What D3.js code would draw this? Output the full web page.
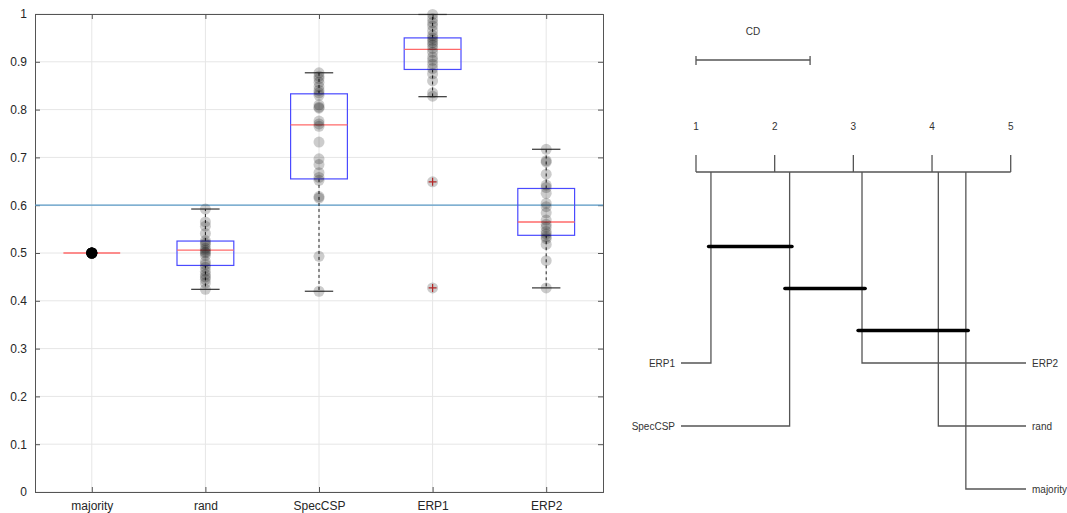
<!DOCTYPE html>
<html>
<head>
<meta charset="utf-8">
<script src="https://cdn.jsdelivr.net/npm/d3@7"></script>
<style>
  body { margin:0; background:#fff; }
  svg { font-family: "Liberation Sans", Arial, sans-serif; }
</style>
</head>
<body>
<script>
// categories and per-group accuracies
var groups = ["majority", "rand", "SpecCSP", "ERP1", "ERP2"];

var majorityVals = [0.5,0.5,0.5,0.5,0.5,0.5,0.5,0.5,0.5,0.5,0.5,0.5,0.5,0.5,0.5,0.5,0.5,0.5,0.5,0.5,0.5,0.5];
var randVals = [0.592,0.565,0.556,0.541,0.526,0.521,0.518,0.51,0.506,0.502,0.5,0.495,0.482,0.476,0.47,0.462,0.455,0.45,0.445,0.437,0.424];
var specVals = [0.877,0.87,0.865,0.857,0.848,0.84,0.835,0.83,0.81,0.805,0.803,0.776,0.77,0.765,0.732,0.697,0.685,0.668,0.658,0.652,0.618,0.615,0.493,0.42];
var erp1Vals = [0.999,0.99,0.982,0.975,0.965,0.955,0.95,0.945,0.94,0.935,0.928,0.92,0.91,0.903,0.895,0.886,0.875,0.86,0.835,0.828,0.649,0.427];
var erp2Vals = [0.717,0.693,0.69,0.665,0.642,0.637,0.625,0.604,0.597,0.584,0.569,0.56,0.554,0.545,0.54,0.534,0.53,0.518,0.484,0.427];

// box stats: [lower whisker, q1, median, q3, upper whisker]
var boxLo  = [0.5, 0.424, 0.42, 0.827, 0.427];
var boxQ1  = [0.5, 0.474, 0.655, 0.884, 0.537];
var boxMed = [0.5, 0.506, 0.768, 0.926, 0.565];
var boxQ3  = [0.5, 0.525, 0.833, 0.950, 0.635];
var boxHi  = [0.5, 0.592, 0.877, 0.999, 0.717];
var outliers = [[], [], [], [0.649, 0.427], []];

var refLine = 0.6;
var yTicks = [0,0.1,0.2,0.3,0.4,0.5,0.6,0.7,0.8,0.9,1];

// critical difference diagram
var cdNames = ["ERP1", "SpecCSP", "ERP2", "rand", "majority"];
var cdRanks = [1.19, 2.19, 3.11, 4.08, 4.43];
var cdValue = 1.45;
var cdCliques = [[1.16, 2.22], [2.13, 3.15], [3.06, 4.46]];
var rankTicks = [1,2,3,4,5];

var allVals = [majorityVals, randVals, specVals, erp1Vals, erp2Vals];

var svg = d3.select("body").append("svg")
    .attr("width", 1067)
    .attr("height", 513);

// ---------- boxplot ----------
var margin = {top: 14, left: 35, right: 464, bottom: 21};
var width = 1067 - margin.left - margin.right;
var height = 513 - margin.top - margin.bottom;

var x = d3.scaleLinear().domain([0.5, 5.5]).range([0, width]);
var y = d3.scaleLinear().domain([0, 1]).range([height, 0]);

var g = svg.append("g")
    .attr("transform", "translate(" + margin.left + "," + margin.top + ")");

// grid
g.selectAll("line.hgrid").data(yTicks).enter().append("line")
    .attr("x1", 0).attr("x2", width)
    .attr("y1", function(d){ return y(d); })
    .attr("y2", function(d){ return y(d); })
    .style("stroke", "#e6e6e6");
g.selectAll("line.vgrid").data(groups).enter().append("line")
    .attr("x1", function(d, i){ return x(i + 1); })
    .attr("x2", function(d, i){ return x(i + 1); })
    .attr("y1", 0).attr("y2", height)
    .style("stroke", "#e6e6e6");

// axes
var yAxis = d3.axisLeft(y).tickValues(yTicks).tickSize(-5).tickPadding(8)
    .tickFormat(function(d){ return d === 0 || d === 1 ? d3.format("d")(d) : d3.format(".1f")(d); });
var yG = g.append("g").call(yAxis);
var yR = g.append("g").attr("transform", "translate(" + width + ",0)")
    .call(d3.axisRight(y).tickValues(yTicks).tickSize(-5).tickFormat(""));
var xAxis = d3.axisBottom(x).tickValues([1,2,3,4,5]).tickSize(-5).tickPadding(9)
    .tickFormat(function(d){ return groups[d - 1]; });
var xG = g.append("g").attr("transform", "translate(0," + height + ")").call(xAxis);
var xT = g.append("g")
    .call(d3.axisTop(x).tickValues([1,2,3,4,5]).tickSize(-5).tickFormat(""));
[yG, yR, xG, xT].forEach(function(a){
    a.select(".domain").style("stroke", "#555");
    a.selectAll("line").style("stroke", "#555");
    a.selectAll("text").style("fill", "#262626").style("font-size", "12px");
});

// reference line
g.append("line")
    .attr("x1", 0).attr("x2", width)
    .attr("y1", y(refLine)).attr("y2", y(refLine))
    .style("stroke", "#5b9bc8").style("stroke-width", 1.3);

var boxW = x(1.25) - x(1);
var capW = x(1.125) - x(1);

var boxes = g.selectAll("g.box").data(groups).enter().append("g")
    .attr("class", "box")
    .attr("transform", function(d, i){ return "translate(" + x(i + 1) + ",0)"; });

// whiskers
boxes.append("line")
    .attr("y1", function(d, i){ return y(boxQ3[i]); })
    .attr("y2", function(d, i){ return y(boxHi[i]); })
    .style("stroke", "#222").style("stroke-dasharray", "3,3");
boxes.append("line")
    .attr("y1", function(d, i){ return y(boxQ1[i]); })
    .attr("y2", function(d, i){ return y(boxLo[i]); })
    .style("stroke", "#222").style("stroke-dasharray", "3,3");
boxes.filter(function(d, i){ return boxHi[i] !== boxLo[i]; }).each(function(d, i0){
    var i = groups.indexOf(d);
    d3.select(this).selectAll("line.cap").data([boxHi[i], boxLo[i]]).enter().append("line")
        .attr("x1", -capW).attr("x2", capW)
        .attr("y1", function(v){ return y(v); })
        .attr("y2", function(v){ return y(v); })
        .style("stroke", "#333").style("stroke-width", 1.2);
});

// box
boxes.append("rect")
    .attr("x", -boxW).attr("width", 2 * boxW)
    .attr("y", function(d, i){ return y(boxQ3[i]); })
    .attr("height", function(d, i){ return y(boxQ1[i]) - y(boxQ3[i]); })
    .style("fill", "none").style("stroke", "#4a4aff").style("stroke-width", 1.2);

// median
boxes.append("line")
    .attr("x1", -boxW).attr("x2", boxW)
    .attr("y1", function(d, i){ return y(boxMed[i]); })
    .attr("y2", function(d, i){ return y(boxMed[i]); })
    .style("stroke", "#ff6a6a").style("stroke-width", 1.4);

// outliers
boxes.each(function(d, i){
    var sel = d3.select(this).selectAll("path.out").data(outliers[i]).enter().append("path")
        .attr("d", "M-4,0H4M0,-4V4")
        .attr("transform", function(v){ return "translate(0," + y(v) + ")"; })
        .style("stroke", "#e03030").style("stroke-width", 1.2);
});

// points
boxes.each(function(d, i){
    d3.select(this).selectAll("circle").data(allVals[i]).enter().append("circle")
        .attr("cx", 0)
        .attr("cy", function(v){ return y(v); })
        .attr("r", 5.5)
        .style("fill", "#000").style("fill-opacity", 0.2);
});

// ---------- CD diagram ----------
var r = d3.scaleLinear().domain([1, 5]).range([696, 1010.7]);
var axisY = 172;
var cd = svg.append("g");
var lineCol = "#555";

cd.append("text").attr("x", r(1) + (r(1 + cdValue) - r(1)) / 2).attr("y", 35)
    .attr("text-anchor", "middle").style("font-size", "10px").style("fill", "#333")
    .text("CD");
cd.append("line").attr("x1", r(1)).attr("x2", r(1 + cdValue))
    .attr("y1", 60).attr("y2", 60).style("stroke", lineCol).style("stroke-width", 1.3);
[1, 1 + cdValue].forEach(function(v){
    cd.append("line").attr("x1", r(v)).attr("x2", r(v))
        .attr("y1", 56).attr("y2", 65).style("stroke", lineCol).style("stroke-width", 1.3);
});

cd.append("line").attr("x1", r(1)).attr("x2", r(5))
    .attr("y1", axisY).attr("y2", axisY).style("stroke", lineCol).style("stroke-width", 1.3);
cd.selectAll("line.rt").data(rankTicks).enter().append("line")
    .attr("x1", function(d){ return r(d); }).attr("x2", function(d){ return r(d); })
    .attr("y1", axisY - 17).attr("y2", axisY)
    .style("stroke", lineCol).style("stroke-width", 1.3);
cd.selectAll("text.rt").data(rankTicks).enter().append("text")
    .attr("x", function(d){ return r(d); }).attr("y", 130)
    .attr("text-anchor", "middle").style("font-size", "10px").style("fill", "#333")
    .text(function(d){ return d; });

var labelY = [363, 426, 363, 426, 489];
var leftSide = [true, true, false, false, false];
cdNames.forEach(function(n, i){
    var xr = r(cdRanks[i]);
    var xe = leftSide[i] ? 681 : 1026;
    cd.append("path")
        .attr("d", "M" + xr + "," + axisY + "V" + labelY[i] + "H" + xe)
        .style("fill", "none").style("stroke", lineCol).style("stroke-width", 1.3);
    cd.append("text")
        .attr("x", leftSide[i] ? xe - 6 : xe + 6)
        .attr("y", labelY[i] + 4)
        .attr("text-anchor", leftSide[i] ? "end" : "start")
        .style("font-size", "10px").style("fill", "#333")
        .text(n);
});

var cliqueY = [246.5, 288.5, 330.5];
cd.selectAll("line.clique").data(cdCliques).enter().append("line")
    .attr("x1", function(d){ return r(d[0]); })
    .attr("x2", function(d){ return r(d[1]); })
    .attr("y1", function(d, i){ return cliqueY[i]; })
    .attr("y2", function(d, i){ return cliqueY[i]; })
    .style("stroke", "#000").style("stroke-width", 3.5).style("stroke-linecap", "round");
</script>
</body>
</html>
